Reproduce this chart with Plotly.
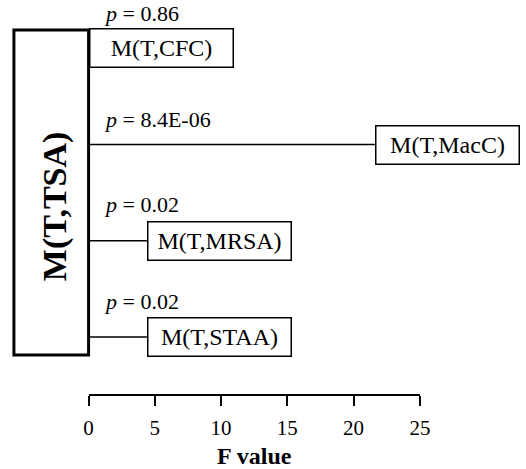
import plotly.graph_objects as go

# Sub-models compared against the full model M(T,TSA)
models = ["M(T,CFC)", "M(T,MacC)", "M(T,MRSA)", "M(T,STAA)"]
f_values = [0.03, 21.6, 4.4, 4.4]
p_labels = ["0.86", "8.4E-06", "0.02", "0.02"]
x_ticks = [0, 5, 10, 15, 20, 25]

W, H = 526, 469
SERIF = "Liberation Serif, Times New Roman, serif"

# Layout geometry (paper fractions)
AX_X0, AX_X1 = 86.2 / W, 427.9 / W      # extent of the F-value axis
AX_Y0 = 75 / H                           # bottom of plotting area
BOX_X0, BOX_Y0, BOX_Y1 = 9.2 / W, 1 - 355 / H, 1 - 30 / H

rows = list(range(len(models), 0, -1))  # top row first
p_shift = [35, 25, 36, 35]

fig = go.Figure()

# Connector lines from the full model to each sub-model, length = F value
for r, f in zip(rows, f_values):
    fig.add_trace(go.Scatter(
        x=[0, f], y=[r, r], mode="lines",
        line=dict(color="black", width=1.5),
        hoverinfo="skip", showlegend=False, cliponaxis=False,
    ))

annotations = []
for r, f, name, p, dy in zip(rows, f_values, models, p_labels, p_shift):
    annotations.append(dict(
        x=f, y=r, xref="x", yref="y", xanchor="left", yanchor="middle",
        text=name, showarrow=False, align="center",
        font=dict(family=SERIF, size=24, color="black"),
        bordercolor="black", borderwidth=1.5, borderpad=2,
        width=138, height=33, bgcolor="white",
    ))
    annotations.append(dict(
        x=1.0, y=r, xref="x", yref="y", xanchor="left", yanchor="middle",
        yshift=dy, text=f"<i>p</i> = {p}", showarrow=False,
        font=dict(family=SERIF, size=22, color="black"),
    ))

# Full model label, rotated inside its box
annotations.append(dict(
    x=(BOX_X0 + AX_X0) / 2 + 4 / W, y=1 - 206 / H, xref="paper", yref="paper",
    xanchor="center", yanchor="middle", textangle=-90,
    text="<b>M(T,TSA)</b>", showarrow=False,
    font=dict(family=SERIF, size=34, color="black"),
))

shapes = [dict(
    type="rect", xref="paper", yref="paper",
    x0=BOX_X0, x1=AX_X0, y0=BOX_Y0, y1=BOX_Y1,
    line=dict(color="black", width=3), fillcolor="rgba(0,0,0,0)",
)]

fig.update_layout(
    width=W, height=H,
    margin=dict(l=0, r=0, t=0, b=0),
    paper_bgcolor="white", plot_bgcolor="white",
    showlegend=False,
    annotations=annotations,
    shapes=shapes,
    xaxis=dict(
        domain=[AX_X0, AX_X1], range=[0, 25],
        tickvals=x_ticks, ticktext=[str(t) for t in x_ticks],
        showline=True, linecolor="black", linewidth=1.5,
        ticks="outside", ticklen=10, tickwidth=1.5, tickcolor="black",
        ticklabelstandoff=4,
        showgrid=False, zeroline=False,
        tickfont=dict(family=SERIF, size=21, color="black"),
        title=dict(text="<b>F value</b>", standoff=10,
                   font=dict(family=SERIF, size=24, color="black")),
    ),
    yaxis=dict(
        domain=[AX_Y0, 1], range=[0.407, 4.503],
        visible=False, showgrid=False, zeroline=False,
    ),
)

fig.write_html("out.html")
